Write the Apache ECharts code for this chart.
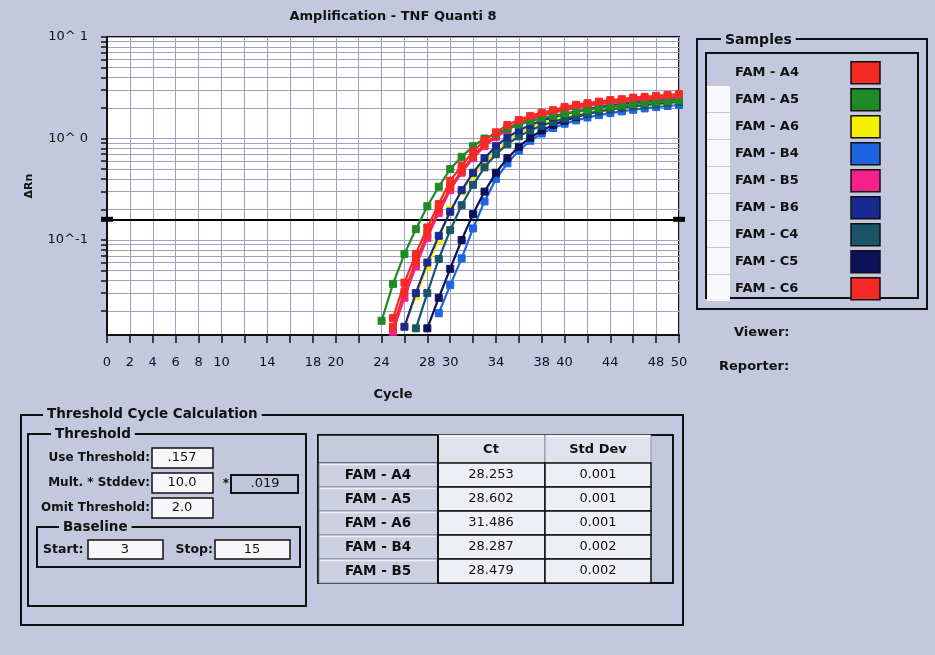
<!DOCTYPE html>
<html><head><meta charset="utf-8">
<script src="https://cdn.jsdelivr.net/npm/echarts@6/dist/echarts.min.js"></script>
<style>html,body{margin:0;padding:0;background:#c3c8de}#c{width:935px;height:655px}</style>
</head><body><div id="c"></div>
<script>
// ---- data ----
const cycles = [24,25,26,27,28,29,30,31,32,33,34,35,36,37,38,39,40,41,42,43,44,45,46,47,48,49,50];
const famA4 = [null,0.017,0.038,0.073,0.133,0.226,0.384,0.54,0.745,0.96,1.15,1.36,1.52,1.67,1.80,1.90,2.05,2.15,2.23,2.31,2.39,2.44,2.53,2.57,2.63,2.69,2.74];
const famA5 = [0.016,0.037,0.073,0.128,0.215,0.335,0.5,0.66,0.84,1.0,1.12,1.25,1.37,1.48,1.58,1.67,1.76,1.84,1.92,1.99,2.06,2.12,2.18,2.24,2.29,2.34,2.39];
const famA6 = [null,null,0.014,0.028,0.055,0.1,0.2,0.3,0.43,0.58,0.76,0.95,1.12,1.28,1.42,1.55,1.66,1.76,1.85,1.93,2.0,2.06,2.12,2.17,2.22,2.26,2.3];
const famB4 = [null,null,null,null,null,0.019,0.036,0.066,0.13,0.24,0.4,0.57,0.76,0.95,1.12,1.27,1.4,1.51,1.61,1.7,1.78,1.85,1.92,1.98,2.04,2.09,2.14];
const famB5 = [null,0.0125,0.027,0.055,0.105,0.185,0.31,0.46,0.64,0.84,1.03,1.22,1.39,1.54,1.67,1.79,1.9,2.0,2.09,2.17,2.24,2.3,2.36,2.41,2.46,2.5,2.54];
const famB6 = [null,null,0.014,0.03,0.06,0.11,0.19,0.31,0.46,0.64,0.84,1.03,1.2,1.36,1.5,1.62,1.74,1.85,1.95,2.04,2.12,2.2,2.27,2.33,2.39,2.44,2.48];
const famC4 = [null,null,null,0.0135,0.03,0.065,0.125,0.22,0.35,0.52,0.7,0.88,1.05,1.2,1.34,1.46,1.57,1.67,1.76,1.85,1.93,2.0,2.07,2.13,2.19,2.24,2.29];
const famC5 = [null,null,null,null,0.0135,0.027,0.052,0.1,0.18,0.3,0.46,0.64,0.83,1.02,1.2,1.36,1.5,1.63,1.75,1.86,1.96,2.05,2.13,2.21,2.28,2.35,2.41];
const famC6 = [null,0.014,0.031,0.062,0.115,0.2,0.33,0.48,0.67,0.88,1.07,1.27,1.44,1.59,1.72,1.84,1.96,2.06,2.15,2.23,2.3,2.37,2.43,2.48,2.53,2.58,2.62];
const sampleNames = ['FAM - A4','FAM - A5','FAM - A6','FAM - B4','FAM - B5','FAM - B6','FAM - C4','FAM - C5','FAM - C6'];
const sampleColors = ['#f52a24','#1f8a26','#f5f000','#1c64e0','#f5208a','#182a92','#1a5468','#0c1058','#f52a24'];
const threshold = 0.157;
const yMin = 0.0116, yMax = 10;
const yTickValues = [0.02,0.03,0.04,0.05,0.06,0.07,0.08,0.09,0.1,0.2,0.3,0.4,0.5,0.6,0.7,0.8,0.9,1,2,3,4,5,6,7,8,9,10];
const yLabelValues = [0.1,1,10];
const xLabels = [0,2,4,6,8,10,14,18,20,24,28,30,34,38,40,44,48,50];
const tableNames = ['FAM - A4','FAM - A5','FAM - A6','FAM - B4','FAM - B5'];
const ctValues = [28.253,28.602,31.486,28.287,28.479];
const stdDevValues = [0.001,0.001,0.001,0.002,0.002];
const useThreshold = '.157', multStddev = '10.0', stddevValue = '.019', omitThreshold = '2.0';
const baselineStart = '3', baselineStop = '15';

// ---- chart ----
const BG = '#c3c8de';
const FF = '"DejaVu Sans", Verdana, sans-serif';
const seriesValues = {'FAM - A4':famA4,'FAM - A5':famA5,'FAM - A6':famA6,'FAM - B4':famB4,'FAM - B5':famB5,'FAM - B6':famB6,'FAM - C4':famC4,'FAM - C5':famC5,'FAM - C6':famC6};
const drawOrder = ['FAM - B4','FAM - C5','FAM - A6','FAM - C4','FAM - B6','FAM - B5','FAM - C6','FAM - A5','FAM - A4'];

const series = drawOrder.map((name, i) => {
  const vals = seriesValues[name];
  const color = sampleColors[sampleNames.indexOf(name)];
  const s = {
    name, type:'line', symbol:'rect', symbolSize:7, showAllSymbol:true,
    data: cycles.map((c,k)=> vals[k]==null ? null : [c, vals[k]]).filter(d=>d),
    lineStyle:{color, width:2.2}, itemStyle:{color, borderColor:color},
    emphasis:{disabled:true}, z: 2 + i
  };
  if (i === 0) {
    s.markLine = {silent:true, symbol:['rect','rect'], symbolSize:[5,12], animation:false,
      lineStyle:{color:'#000', width:2, type:'solid'}, label:{show:false},
      data:[{yAxis: threshold}]};
  }
  return s;
});

const g = [];
function rect(x,y,w,h,fill,stroke,lw){ g.push({type:'rect', silent:true, shape:{x,y,width:w,height:h}, style:{fill:fill||'none', stroke:stroke||'none', lineWidth:lw||0}}); }
function line(x1,y1,x2,y2,stroke,lw){ g.push({type:'line', silent:true, shape:{x1,y1,x2,y2}, style:{stroke, lineWidth:lw}}); }
function txt(x,y,s,o){ o=o||{}; const st={text:s, fill:'#111', font:(o.weight||'bold')+' '+(o.size||12)+'px '+FF, align:o.align||'left', verticalAlign:'middle'}; if(o.bg){st.backgroundColor=o.bg; st.padding=[0,4];} g.push({type:'text', silent:true, x, y, style:st}); }

// title
txt(393,17,'Amplification - TNF Quanti 8',{size:13,align:'center'});

// samples panel
rect(697,39,230,270,'none','#111',2);
txt(721,40,'Samples',{size:14,bg:BG});
rect(706,53,212,245,'none','#111',2);
for (let i=1;i<9;i++) rect(707,72+27*i-13,23,26,'#f8f8fa');
txt(734,333,'Viewer:',{size:13});
txt(719,367,'Reporter:',{size:13});

// threshold cycle calculation
rect(21,415,662,210,'none','#111',2);
txt(43,414,'Threshold Cycle Calculation',{size:13.5,bg:BG});
rect(28,434,278,172,'none','#111',2);
txt(51,434,'Threshold',{size:13.5,bg:BG});
txt(150,458,'Use Threshold:',{align:'right'});
txt(150,483,'Mult. * Stddev:',{align:'right'});
txt(150,508,'Omit Threshold:',{align:'right'});
rect(152,448,61,20,'#f7f7f9','#111',1.5); txt(182,458,useThreshold,{weight:'normal',size:13,align:'center'});
rect(152,473,61,20,'#f7f7f9','#111',1.5); txt(182,483,multStddev,{weight:'normal',size:13,align:'center'});
txt(226,484,'*',{size:12,align:'center'});
rect(231,475,67,18,'#c0c5db','#111',2); txt(265,484,stddevValue,{weight:'normal',size:13,align:'center'});
rect(152,498,61,20,'#f7f7f9','#111',1.5); txt(182,508,omitThreshold,{weight:'normal',size:13,align:'center'});
rect(37,527,263,40,'none','#111',2);
txt(59,527,'Baseline',{size:13.5,bg:BG});
txt(43,550,'Start:',{size:12.5});
rect(88,540,75,19,'#f7f7f9','#111',1.5); txt(125,550,baselineStart,{weight:'normal',size:13,align:'center'});
txt(213,550,'Stop:',{size:12.5,align:'right'});
rect(215,540,75,19,'#f7f7f9','#111',1.5); txt(252,550,baselineStop,{weight:'normal',size:13,align:'center'});

// table
rect(318,435,355,148,BG,'#111',2);
rect(318,435,120,28,'#c6cadd','#111',1.5);
rect(438,435,107,28,'#e0e2ec','#8c8fa8',1); line(439,436,544,436,'#fff',1.5);
rect(545,435,106,28,'#e0e2ec','#8c8fa8',1); line(546,436,650,436,'#fff',1.5);
txt(491,450,'Ct',{size:13,align:'center'});
txt(598,450,'Std Dev',{size:13,align:'center'});
tableNames.forEach((n,i)=>{
  const y = 463 + 24*i;
  rect(319,y,119,24,'#cdd0e1','#8e91aa',1); line(320,y+1.5,436,y+1.5,'#eef0f6',1.5);
  txt(378,y+12,n,{size:13.5,align:'center'});
  rect(438,y,107,24,'#eef0f6','#111',1.5);
  txt(491,y+12,ctValues[i].toFixed(3),{weight:'normal',size:13,align:'center'});
  rect(545,y,106,24,'#eef0f6','#111',1.5);
  txt(598,y+12,stdDevValues[i].toFixed(3),{weight:'normal',size:13,align:'center'});
});
line(438,435,438,583,'#111',2);

const chart = echarts.init(document.getElementById('c'), null, {renderer:'canvas'});
chart.setOption({
  backgroundColor: BG,
  animation:false,
  textStyle:{fontFamily:FF},
  grid:{left:107, top:37, width:572, height:298, show:true, backgroundColor:'#ffffff', borderColor:'#111', borderWidth:2, containLabel:false},
  legend:{
    data:sampleNames, orient:'vertical', left:735, top:61, padding:0, itemGap:3.5, itemWidth:29, itemHeight:22,
    icon:'rect', align:'right', selectedMode:false,
    itemStyle:{borderColor:'#111', borderWidth:1.5},
    formatter: n => '{n|' + n + '}',
    textStyle:{fontFamily:FF, fontWeight:'bold', fontSize:13, color:'#111',
      rich:{n:{width:111, height:22, lineHeight:22, align:'left', fontFamily:FF, fontWeight:'bold', fontSize:13, color:'#111'}}}
  },
  xAxis:{
    type:'value', min:0, max:50, interval:2,
    name:'Cycle', nameLocation:'middle', nameGap:53,
    nameTextStyle:{fontFamily:FF, fontWeight:'bold', fontSize:13, color:'#111'},
    axisLine:{show:true, lineStyle:{color:'#111', width:2}},
    axisTick:{show:true, length:8, lineStyle:{color:'#111', width:1.5}},
    axisLabel:{margin:21, fontSize:13, color:'#111', fontFamily:FF, hideOverlap:false,
      formatter: v => xLabels.indexOf(v) >= 0 ? String(v) : ''},
    splitLine:{show:true, lineStyle:{color:'#a0a0c2', width:1}}
  },
  yAxis:{
    type:'log', logBase:10, min:yMin, max:yMax,
    name:'ΔRn', nameLocation:'middle', nameGap:72,
    nameTextStyle:{fontFamily:FF, fontWeight:'bold', fontSize:11, color:'#111'},
    axisLine:{show:true, lineStyle:{color:'#111', width:2}},
    axisTick:{show:true, length:6, lineStyle:{color:'#111', width:1.5}, customValues:yTickValues},
    axisLabel:{margin:19, fontSize:13, color:'#111', fontFamily:FF, customValues:yLabelValues,
      formatter: v => { const e = Math.round(Math.log10(v)); return '10^' + (e >= 0 ? ' ' + e : String(e)); }},
    splitLine:{show:true, lineStyle:{color:'#a0a0c2', width:1}}
  },
  graphic: g,
  series
});
</script>
</body></html>
